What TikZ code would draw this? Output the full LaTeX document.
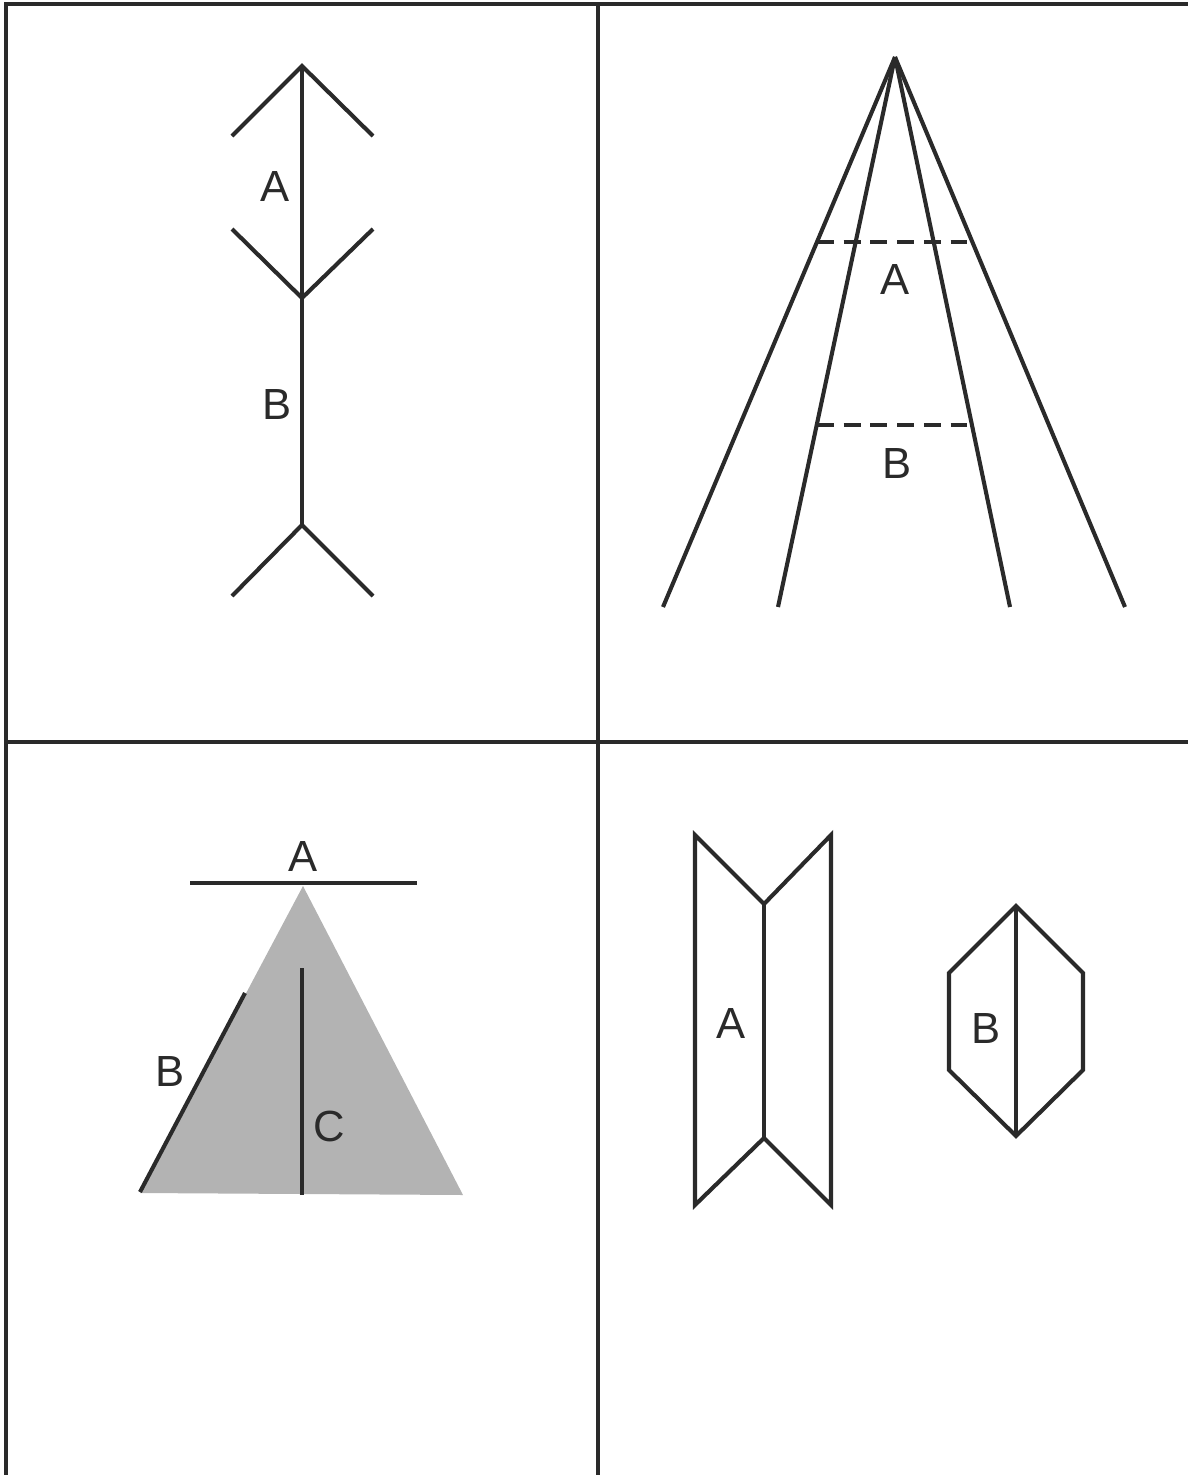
\documentclass[tikz,border=0pt]{standalone}
\usepackage{fontspec}
\setmainfont{Liberation Sans}
\usepackage{tikz}
\definecolor{inkDark}{RGB}{42,42,42}
\definecolor{fillGray}{RGB}{179,179,179}

\begin{document}
\begin{tikzpicture}[
    x=0.025cm, y=-0.025cm,
    ink/.style={draw=inkDark, line width=2.9pt},
    dashline/.style={ink, dash pattern=on 12pt off 7pt},
    lbl/.style={text=inkDark, font=\fontsize{31}{36}\selectfont, inner sep=0pt}
]
\useasboundingbox (0,0) rectangle (1188,1475);

% Panel grid
\draw[ink] (6,1480) -- (6,4) -- (1195,4);
\draw[ink] (598,4) -- (598,1480);
\draw[ink] (6,742) -- (1195,742);

% Top left: arrow-shaft figure
\coordinate (shaftTop) at (302,66);
\coordinate (shaftMid) at (302,298);
\coordinate (shaftBot) at (302,525);
\draw[ink] (shaftTop) -- (shaftBot);
\draw[ink] (232,136) -- (shaftTop) -- (373,136);
\draw[ink] (232,229) -- (shaftMid) -- (373,229);
\draw[ink] (232,596) -- (shaftBot) -- (373,596);
\node[lbl] (shaftA) at (275,186) {A};
\node[lbl] (shaftB) at (277,404) {B};

% Top right: converging lines
\coordinate (vanish) at (895,57);
\foreach \xe in {663,778,1010,1125}
    \draw[ink] (vanish) -- (\xe,607);
\draw[dashline] (817,242) -- (973,242);
\draw[dashline] (817,425) -- (973,425);
\node[lbl] (railA) at (895,279) {A};
\node[lbl] (railB) at (897,463) {B};

% Bottom left: triangle
\fill[fillGray] (303,886) -- (140,1193) -- (463,1195) -- cycle;
\draw[ink] (190,883) -- (417,883);
\draw[ink] (140,1192) -- (245,993);
\draw[ink] (302,968) -- (302,1195);
\node[lbl] (triA) at (303,856) {A};
\node[lbl] (triB) at (170,1071) {B};
\node[lbl] (triC) at (329,1126) {C};

% Bottom right: folded shapes
\draw[ink] (764,904) -- (695,835) -- (695,1205) -- (764,1138) -- (831,1205) -- (831,835) -- cycle;
\draw[ink] (764,904) -- (764,1138);
\node[lbl] (foldA) at (731,1023) {A};
\draw[ink] (1016,906) -- (1083,973) -- (1083,1070) -- (1016,1136) -- (949,1070) -- (949,973) -- cycle;
\draw[ink] (1016,906) -- (1016,1136);
\node[lbl] (foldB) at (986,1028) {B};

\end{tikzpicture}
\end{document}
